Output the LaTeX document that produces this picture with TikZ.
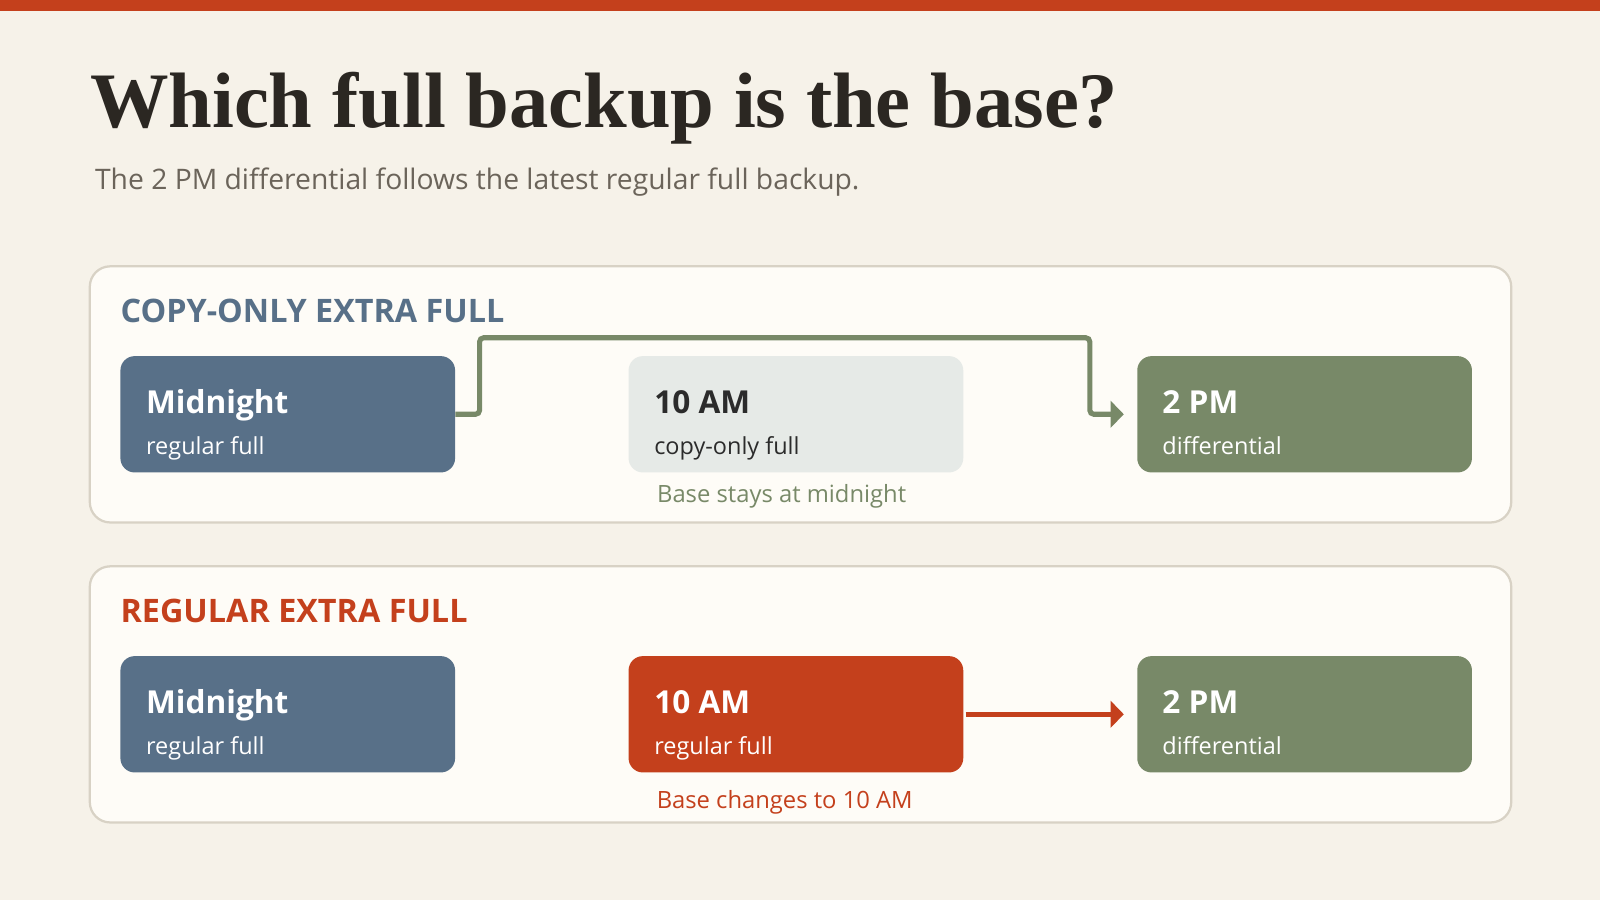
\documentclass[tikz,border=0pt]{standalone}
\usepackage{fontspec}
\setmainfont{Open Sans}
\newfontfamily\titlefont{Liberation Serif}
\usetikzlibrary{arrows.meta}
\definecolor{bg}{HTML}{F6F2E9}
\definecolor{barred}{HTML}{C4401C}
\definecolor{panelfill}{HTML}{FEFCF7}
\definecolor{panelline}{HTML}{D8D2C5}
\definecolor{slate}{HTML}{587088}
\definecolor{sage}{HTML}{788968}
\definecolor{mist}{HTML}{E6EAE7}
\definecolor{ink}{HTML}{2B2722}
\definecolor{subgray}{HTML}{6B645A}
\definecolor{darktext}{HTML}{2B2B2B}
\tikzset{
  panel/.style={draw=panelline, line width=2.2pt, fill=panelfill, rounded corners=20pt},
  card/.style={rounded corners=14pt, minimum width=328pt, minimum height=114pt, inner sep=0pt, draw=none},
  cardtitle/.style={anchor=base west, inner sep=0pt, font=\fontsize{31}{36}\selectfont\bfseries},
  cardsub/.style={anchor=base west, inner sep=0pt, font=\fontsize{23}{28}\selectfont},
  header/.style={anchor=base west, inner sep=0pt, font=\fontsize{31.7}{36}\selectfont\bfseries},
  caption/.style={anchor=base, inner sep=0pt, font=\fontsize{23.3}{28}\selectfont},
  conn/.style={line width=5pt, rounded corners=4pt, -{Triangle[length=13pt,width=26pt]}}
}
\begin{document}
\begin{tikzpicture}[x=1pt,y=-1pt]
\fill[bg] (0,0) rectangle (1568,882);
\useasboundingbox (0,0) rectangle (1568,882);
\fill[barred] (0,0) rectangle (1568,11);
\node[anchor=base west, inner sep=0pt, text=ink, font=\titlefont\fontsize{77}{90}\selectfont\bfseries] (title) at (88,125) {Which full backup is the base?};
\node[anchor=base west, inner sep=0pt, text=subgray, font=\fontsize{27.7}{32}\selectfont] (subtitle) at (93,186) {The 2 PM differential follows the latest regular full backup.};
% panel 1
\draw[panel] (88,261) rectangle (1481,512);
\node[header, text=slate] (h1) at (118,316) {COPY-ONLY EXTRA FULL};
\node[card, fill=slate] (m1) at (282,406) {};
\node[cardtitle, text=white] (m1t) at (143,405) {Midnight};
\node[cardsub, text=white] (m1s) at (143,445) {regular full};
\node[card, fill=mist] (t1) at (780,406) {};
\node[cardtitle, text=darktext] (t1t) at (641,405) {10 AM};
\node[cardsub, text=darktext] (t1s) at (641,445) {copy-only full};
\node[caption, text=sage] (cap1) at (766,492) {Base stays at midnight};
\node[card, fill=sage] (d1) at (1278.5,406) {};
\node[cardtitle, text=white] (d1t) at (1139,405) {2 PM};
\node[cardsub, text=white] (d1s) at (1139,445) {differential};
\coordinate (c1a) at (470,331);
\coordinate (c1b) at (1068,331);
\draw[conn, draw=sage, shorten >=13pt] (m1.east) -| (c1a) -- (c1b) |- (d1.west);
% panel 2
\draw[panel] (88,555) rectangle (1481,806);
\node[header, text=barred] (h2) at (118,610) {REGULAR EXTRA FULL};
\node[card, fill=slate] (m2) at (282,700) {};
\node[cardtitle, text=white] (m2t) at (143,699) {Midnight};
\node[cardsub, text=white] (m2s) at (143,739) {regular full};
\node[card, fill=barred] (t2) at (780,700) {};
\node[cardtitle, text=white] (t2t) at (641,699) {10 AM};
\node[cardsub, text=white] (t2s) at (641,739) {regular full};
\node[caption, text=barred] (cap2) at (769,792) {Base changes to 10 AM};
\node[card, fill=sage] (d2) at (1278.5,700) {};
\node[cardtitle, text=white] (d2t) at (1139,699) {2 PM};
\node[cardsub, text=white] (d2s) at (1139,739) {differential};
\draw[conn, draw=barred, shorten >=13pt, shorten <=2pt] (t2.east) -- (d2.west);
\end{tikzpicture}
\end{document}
